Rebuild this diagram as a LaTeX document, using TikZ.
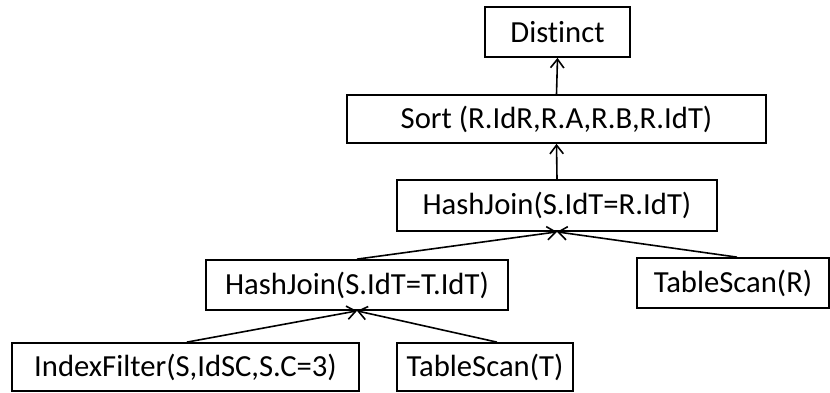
\documentclass[tikz,border=0pt]{standalone}
\usepackage{fontspec}
\setmainfont{Carlito}[Ligatures={NoCommon,NoContextual}]
\usetikzlibrary{arrows.meta}
\begin{document}
\begin{tikzpicture}[x=0.75pt, y=-0.75pt,
  opbox/.style={draw, line width=1.3pt, inner sep=0pt, font=\fontsize{23pt}{27pt}\selectfont},
  feed/.style={line width=1.2pt, -{Straight Barb[length=6.5pt,width=10pt,line width=1.2pt]}}]
  \useasboundingbox (0,0) rectangle (830,392);
  % plan operators, top to bottom
  \node[opbox, minimum width=108.75pt, minimum height=37.5pt]  (distinct) at (557.5,32)  {Distinct};
  \node[opbox, minimum width=314.25pt, minimum height=36pt]    (sort)     at (556.5,119) {Sort (R.IdR,R.A,R.B,R.IdT)};
  \node[opbox, minimum width=240pt,    minimum height=38.25pt] (hjr)      at (557,205.5) {HashJoin(S.IdT=R.IdT)};
  \node[opbox, minimum width=226.5pt,  minimum height=37.5pt]  (hjt)      at (357,285)   {HashJoin(S.IdT=T.IdT)};
  \node[opbox, minimum width=144pt,    minimum height=37.5pt]  (scanr)    at (733,283)   {TableScan(R)};
  \node[opbox, minimum width=260.25pt, minimum height=36pt]    (filter)   at (185.5,367) {IndexFilter(S,IdSC,S.C=3)};
  \node[opbox, minimum width=132pt,    minimum height=36pt]    (scant)    at (485,367)   {TableScan(T)};
  % data flow from children up to parents
  \draw[feed] (sort.north) -- (distinct.south);
  \draw[feed] (hjr.north) -- (sort.south);
  \draw[feed] (hjt.north) -- (hjr.south);
  \draw[feed] ([xshift=3pt]scanr.north) -- (hjr.south);
  \draw[feed] ([xshift=1pt]filter.north) -- (hjt.south);
  \draw[feed] ([xshift=9pt]scant.north) -- (hjt.south);
\end{tikzpicture}
\end{document}
